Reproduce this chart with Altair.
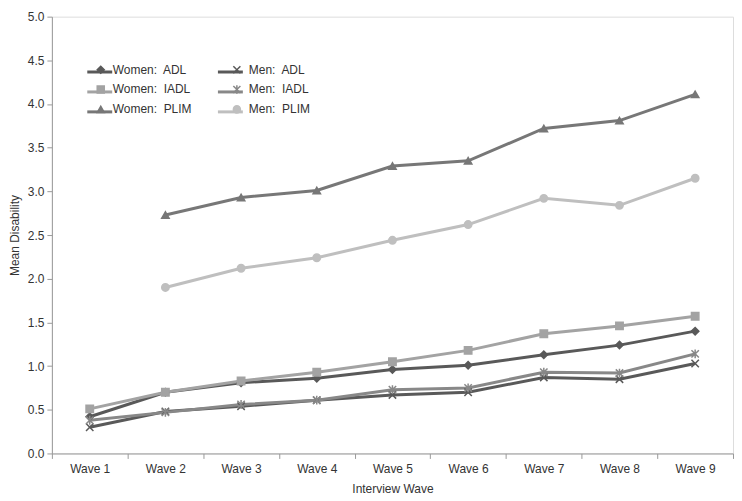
import altair as alt
import pandas as pd

waves = ["Wave 1", "Wave 2", "Wave 3", "Wave 4", "Wave 5", "Wave 6", "Wave 7", "Wave 8", "Wave 9"]

women_adl = [0.42, 0.70, 0.81, 0.86, 0.96, 1.01, 1.13, 1.24, 1.40]
women_iadl = [0.51, 0.70, 0.83, 0.93, 1.05, 1.18, 1.37, 1.46, 1.57]
women_plim = [None, 2.73, 2.93, 3.01, 3.29, 3.35, 3.72, 3.81, 4.11]
men_adl = [0.30, 0.48, 0.54, 0.61, 0.67, 0.70, 0.87, 0.85, 1.03]
men_iadl = [0.38, 0.47, 0.56, 0.61, 0.73, 0.75, 0.93, 0.92, 1.14]
men_plim = [None, 1.90, 2.12, 2.24, 2.44, 2.62, 2.92, 2.84, 3.15]

NB = "\u00a0"
series_names = [
    "Women:" + NB + " ADL", "Women:" + NB + " IADL", "Women:" + NB + " PLIM",
    "Men:" + NB + " ADL", "Men:" + NB + " IADL", "Men:" + NB + " PLIM",
]
line_keys = [n + "\u200b" for n in series_names]
series_values = [women_adl, women_iadl, women_plim, men_adl, men_iadl, men_plim]
series_colors = ["#595959", "#a3a3a3", "#777777", "#595959", "#888888", "#bfbfbf"]
X_PATH = "M-1,-1L1,1M-1,1L1,-1"
AST_PATH = "M-1,-1L1,1M-1,1L1,-1M0,-1.2L0,1.2"
series_shapes = ["diamond", "square", "triangle-up", X_PATH, AST_PATH, "circle"]

rows = []
for name, lk, vals in zip(series_names, line_keys, series_values):
    for w, v in zip(waves, vals):
        if v is not None:
            rows.append({"wave": w, "value": v, "series": name, "lkey": lk})
df = pd.DataFrame(rows)

FONT = "Liberation Sans"
TXT = "#333333"
AX = "#9a9a9a"

x_enc = alt.X("wave:N", sort=waves, bandPosition=0.5,
              scale=alt.Scale(type="band", domain=waves, paddingInner=0, paddingOuter=0),
              axis=alt.Axis(title="Interview Wave", labelAngle=0, tickBand="extent",
                            domainColor=AX, tickColor=AX, tickSize=5,
                            labelFontSize=12, titleFontSize=12, labelColor=TXT,
                            titleColor=TXT, titleFontWeight="normal", labelPadding=5,
                            titlePadding=9, grid=False))
y_enc = alt.Y("value:Q",
              scale=alt.Scale(domain=[0, 5], nice=False),
              axis=alt.Axis(title="Mean Disability", values=[i * 0.5 for i in range(11)],
                            format=".1f", domainColor=AX, tickColor=AX,
                            tickSize=5, labelFontSize=12, titleFontSize=12,
                            labelColor=TXT, titleColor=TXT,
                            titleFontWeight="normal", labelPadding=3, titlePadding=6,
                            grid=False))

line_scale = alt.Scale(domain=line_keys, range=series_colors)
color_scale = alt.Scale(domain=series_names, range=series_colors)
shape_scale = alt.Scale(domain=series_names, range=series_shapes)

LX, LY = 34, 47
line_legend = alt.Legend(title=None, orient="none", legendX=LX, legendY=LY - 5.5, columns=2,
                         columnPadding=93, rowPadding=-6, labelFontSize=12,
                         labelExpr="''", labelFont=FONT, symbolType="stroke",
                         symbolSize=625, symbolStrokeWidth=3, labelOffset=1)
point_legend = alt.Legend(title=None, orient="none", legendX=LX + 9, legendY=LY, columns=2,
                          columnPadding=37.5, rowPadding=5, labelFontSize=12, labelColor=TXT,
                          labelFont=FONT, symbolSize=50, symbolStrokeWidth=1.5,
                          labelOffset=6, symbolOpacity=1)

lines = alt.Chart(df).mark_line(strokeWidth=3).encode(
    x=x_enc, y=y_enc,
    color=alt.Color("lkey:N", scale=line_scale, legend=line_legend),
    detail="series:N",
)

points = alt.Chart(df).mark_point(filled=False, strokeWidth=1.5, opacity=1).encode(
    x=x_enc, y=y_enc,
    fill=alt.Fill("series:N", scale=color_scale, legend=point_legend),
    stroke=alt.Stroke("series:N", scale=color_scale, legend=point_legend),
    shape=alt.Shape("series:N", scale=shape_scale, legend=point_legend),
    size=alt.value(55),
)

chart = alt.layer(lines, points).properties(
    width=728, height=487,
    autosize=alt.AutoSizeParams(type="fit", contains="padding"),
    padding={"left": 0, "top": 2, "right": 0, "bottom": 0},
).configure_view(stroke=None).configure(font=FONT)

chart.save("out.html", embed_options={"renderer": "svg", "actions": False})
